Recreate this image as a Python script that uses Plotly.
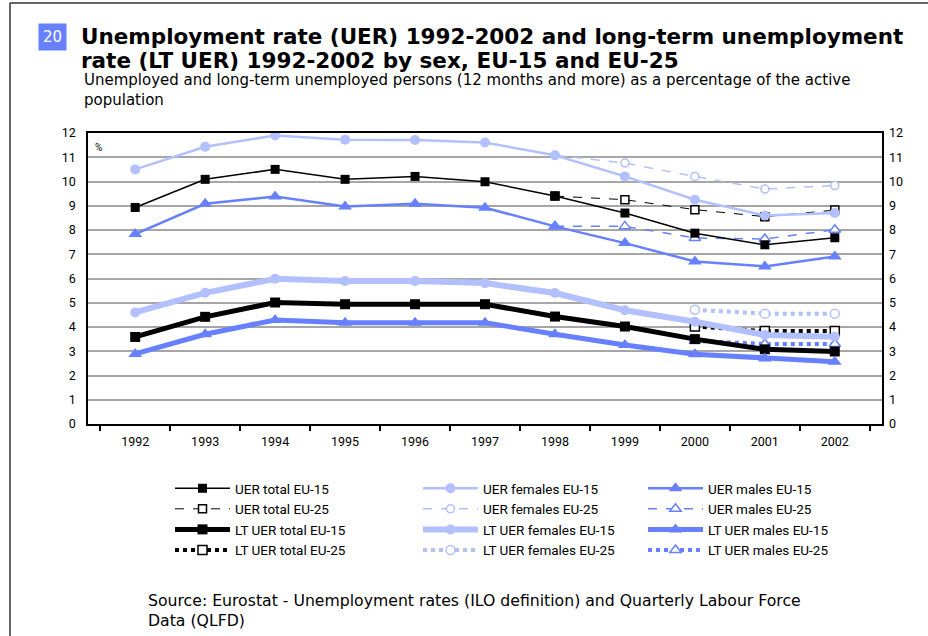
import plotly.graph_objects as go

years = ["1992", "1993", "1994", "1995", "1996", "1997", "1998", "1999", "2000", "2001", "2002"]

uer_total_eu15 = [8.93, 10.09, 10.5, 10.09, 10.21, 9.99, 9.40, 8.70, 7.87, 7.39, 7.68]
uer_total_eu25 = [None, None, None, None, None, None, 9.40, 9.25, 8.84, 8.55, 8.82]
lt_total_eu15 = [3.59, 4.42, 5.01, 4.94, 4.94, 4.94, 4.43, 4.02, 3.50, 3.08, 2.99]
lt_total_eu25 = [None, None, None, None, None, None, None, None, 4.02, 3.83, 3.83]

uer_fem_eu15 = [10.5, 11.43, 11.9, 11.72, 11.71, 11.61, 11.08, 10.21, 9.25, 8.6, 8.7]
uer_fem_eu25 = [None, None, None, None, None, None, 11.08, 10.76, 10.21, 9.69, 9.83]
lt_fem_eu15 = [4.60, 5.41, 5.99, 5.90, 5.90, 5.81, 5.40, 4.69, 4.22, 3.67, 3.60]
lt_fem_eu25 = [None, None, None, None, None, None, None, None, 4.71, 4.55, 4.55]

uer_male_eu15 = [7.83, 9.08, 9.38, 8.97, 9.08, 8.92, 8.15, 7.46, 6.70, 6.50, 6.91]
uer_male_eu25 = [None, None, None, None, None, None, 8.15, 8.15, 7.67, 7.63, 8.01]
lt_male_eu15 = [2.89, 3.70, 4.29, 4.18, 4.18, 4.18, 3.70, 3.26, 2.88, 2.70, 2.57]
lt_male_eu25 = [None, None, None, None, None, None, None, None, 3.43, 3.30, 3.30]

y_ticks = list(range(0, 13))

BLACK = "#000000"
FEM = "#B3C0FF"
MALE = "#6680FF"

L, R, T, B = 88, 882, 133, 424
W, H = 928, 636


def PX(x):
    return (x - L) / (R - L)


def PY(y):
    return (B - y) / (B - T)


fig = go.Figure()


def add(name, y, color, width, symbol, msize, dash="solid", hollow=False, legend="legend", rank=1):
    if hollow:
        marker = dict(symbol=symbol, size=msize, color="white", line=dict(color=color, width=1.5))
    else:
        marker = dict(symbol=symbol, size=msize, color=color, line=dict(width=0))
    fig.add_trace(go.Scatter(
        x=years, y=y, name=name, mode="lines+markers",
        line=dict(color=color, width=width, dash=dash),
        marker=marker, legend=legend, legendrank=rank,
        connectgaps=False,
    ))


# EU-25 first (drawn below)
add("UER total EU-25", uer_total_eu25, BLACK, 1, "square", 8, dash="dash", hollow=True, legend="legend", rank=2)
add("LT UER total EU-25", lt_total_eu25, BLACK, 4, "square", 9, dash="dot", hollow=True, legend="legend", rank=4)
add("UER females EU-25", uer_fem_eu25, FEM, 1.5, "circle", 8, dash="dash", hollow=True, legend="legend2", rank=2)
add("LT UER females EU-25", lt_fem_eu25, FEM, 4, "circle", 9, dash="dot", hollow=True, legend="legend2", rank=4)
add("UER males EU-25", uer_male_eu25, MALE, 1.5, "triangle-up", 10, dash="dash", hollow=True, legend="legend3", rank=2)
add("LT UER males EU-25", lt_male_eu25, MALE, 4, "triangle-up", 10, dash="dot", hollow=True, legend="legend3", rank=4)

add("UER total EU-15", uer_total_eu15, BLACK, 1.5, "square", 9, legend="legend", rank=1)
add("UER females EU-15", uer_fem_eu15, FEM, 2.5, "circle", 10, legend="legend2", rank=1)
add("UER males EU-15", uer_male_eu15, MALE, 2.5, "triangle-up", 12, legend="legend3", rank=1)
add("LT UER females EU-15", lt_fem_eu15, FEM, 6, "circle", 10, legend="legend2", rank=3)
add("LT UER total EU-15", lt_total_eu15, BLACK, 5, "square", 10, legend="legend", rank=3)
add("LT UER males EU-15", lt_male_eu15, MALE, 5, "triangle-up", 12, legend="legend3", rank=3)

# dummy trace for the right axis
fig.add_trace(go.Scatter(x=years, y=uer_total_eu15, yaxis="y2", mode="lines",
                         line=dict(width=0), opacity=0, showlegend=False, hoverinfo="skip"))

tick_font = dict(family="Roboto", size=12.5, color="#000")
leg_font = dict(family="Roboto", size=13.5, color="#000")

legend_common = dict(orientation="v", xanchor="left", yanchor="top", bgcolor="rgba(0,0,0,0)",
                     font=leg_font, itemwidth=55, tracegroupgap=0, traceorder="normal")

fig.update_layout(
    width=W, height=H,
    margin=dict(l=L, r=W - R, t=T, b=H - B, autoexpand=False),
    paper_bgcolor="white", plot_bgcolor="white",
    xaxis=dict(type="category", showline=True, linecolor="black", linewidth=1.5, mirror=True,
               ticks="outside", tickson="boundaries", ticklen=5, tickcolor="black", tickwidth=1.5,
               showgrid=False, tickfont=tick_font, zeroline=False, ticklabelstandoff=5),
    yaxis=dict(range=[0, 12], tickvals=y_ticks, showline=True, linecolor="black", linewidth=1.5,
               mirror=True, showgrid=True, gridcolor="#A6A6A6", gridwidth=1.5, ticks="",
               tickfont=tick_font, zeroline=False, ticklabelstandoff=8),
    yaxis2=dict(range=[0, 12], tickvals=y_ticks, overlaying="y", side="right", showgrid=False,
                showline=False, ticks="", tickfont=tick_font, zeroline=False, ticklabelstandoff=6),
    legend=dict(x=PX(170), y=PY(473), **legend_common),
    legend2=dict(x=PX(418), y=PY(473), **legend_common),
    legend3=dict(x=PX(643), y=PY(473), **legend_common),
    showlegend=True,
)

ann = []
ann.append(dict(text="20", x=PX(52), y=PY(37), xref="paper", yref="paper", showarrow=False,
                font=dict(family="DejaVu Sans", size=15, color="white"), bgcolor="#6680FF",
                borderpad=4, xanchor="center", yanchor="middle"))
ann.append(dict(text="<b>Unemployment rate (UER) 1992-2002 and long-term unemployment</b>",
                x=PX(79), y=PY(36), xref="paper", yref="paper", showarrow=False, align="left",
                xanchor="left", yanchor="middle", font=dict(family="DejaVu Sans", size=21.5, color="black")))
ann.append(dict(text="<b>rate (LT UER) 1992-2002 by sex, EU-15 and EU-25</b>",
                x=PX(79), y=PY(60), xref="paper", yref="paper", showarrow=False, align="left",
                xanchor="left", yanchor="middle", font=dict(family="DejaVu Sans", size=21.5, color="black")))
ann.append(dict(text="Unemployed and long-term unemployed persons (12 months and more) as a percentage of the active<br>population",
                x=PX(82), y=PY(69), xref="paper", yref="paper", showarrow=False, align="left",
                xanchor="left", yanchor="top", font=dict(family="DejaVu Sans", size=15, color="black")))
ann.append(dict(text="%", x=PX(93), y=PY(147), xref="paper", yref="paper", showarrow=False,
                xanchor="left", yanchor="middle", font=dict(family="Roboto", size=10, color="black")))
ann.append(dict(text="Source: Eurostat - Unemployment rates (ILO definition) and Quarterly Labour Force<br>Data (QLFD)",
                x=PX(146), y=PY(589), xref="paper", yref="paper", showarrow=False, align="left",
                xanchor="left", yanchor="top", font=dict(family="DejaVu Sans", size=15.7, color="black")))
fig.update_layout(annotations=ann)

fig.update_layout(shapes=[
    dict(type="line", xref="paper", yref="paper", x0=PX(10), x1=PX(928), y0=PY(3), y1=PY(3),
         line=dict(color="#333", width=1.5)),
    dict(type="line", xref="paper", yref="paper", x0=PX(10), x1=PX(10), y0=PY(3), y1=PY(636),
         line=dict(color="#333", width=1.5)),
])

fig.write_html("out.html", config={"displayModeBar": False},
               post_script="document.body.style.margin='0';document.body.style.overflow='hidden';")
